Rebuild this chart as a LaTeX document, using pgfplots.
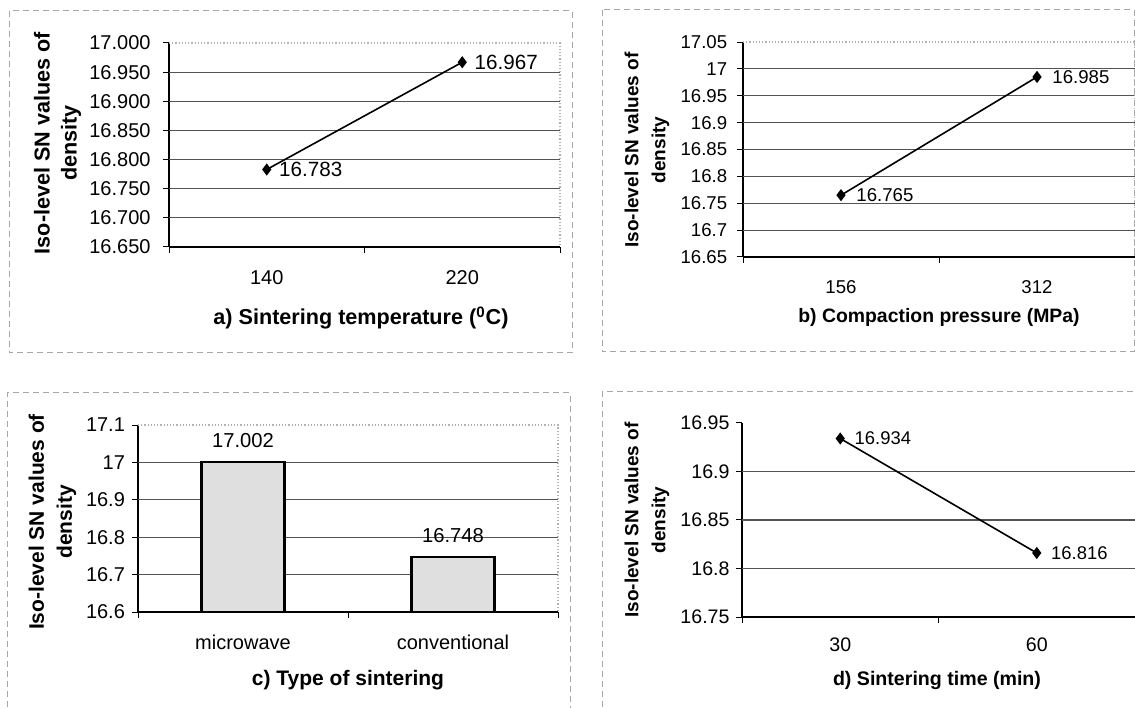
\documentclass[border=0pt]{standalone}
\usepackage{pgfplots}
\pgfplotsset{compat=1.18}
\usepackage{fontspec}
\setmainfont{Liberation Sans}

\pgfplotsset{
  panel/.style={
    scale only axis,
    anchor=south west,
    axis x line*=bottom,
    axis y line*=left,
    axis line style={black, line width=0.6pt},
    /pgf/number format/assume math mode=true,
    xmin=0.5, xmax=2.5,
    xtick={0.5,1.5,2.5},
    xticklabels={},
    tick align=outside,
    major tick length=3pt,
    every tick/.style={black, line width=0.5pt},
    extra x ticks={1,2},
    extra x tick style={major tick length=0pt},
    extra y tick labels={},
    extra y tick style={ymajorgrids=true, major tick length=0pt},
    grid style={gray!65!black, line width=0.6pt},
    clip=false,
    every axis plot post/.append style={black, line width=0.8pt, mark=diamond*, mark size=2.4pt, mark options={solid, fill=black}},
    point meta=explicit symbolic,
    nodes near coords,
  },
  border/.style={after end axis/.code={\draw[gray!60, densely dotted, line width=0.6pt] (rel axis cs:0,1) -- (rel axis cs:1,1) -- (rel axis cs:1,0);}},
}

\begin{document}
\begin{tikzpicture}
\useasboundingbox (0,0) rectangle (567.5pt,353.5pt);
\fill[white] (0,0) rectangle (567.5pt,353.5pt);

\begin{scope}[x=0.5pt, y=0.5pt]
% panel frames
\draw[gray!70, densely dashed, line width=0.5pt] (9,696) rectangle (572,354);
\draw[gray!70, densely dashed, line width=0.5pt] (602,697) rectangle (1134,355);
\draw[gray!70, densely dashed, line width=0.5pt] (7,-10) -- (7,314) -- (570,314) -- (570,-10);
\draw[gray!70, densely dashed, line width=0.5pt] (602,-10) -- (602,315) -- (1134,315);

\node[rotate=90, align=center, font=\bfseries\fontsize{10.8}{13.5}\selectfont] at (57.5,564) {Iso-level SN values of\\density};
\node[font=\bfseries\fontsize{10.8}{13}\selectfont] at (361,389) {a) Sintering temperature (\textsuperscript{0}C)};
\node[rotate=90, align=center, font=\bfseries\fontsize{9.5}{13.5}\selectfont] at (647,557) {Iso-level SN values of\\density};
\node[font=\bfseries\fontsize{9.7}{12}\selectfont] at (939,390) {b) Compaction pressure (MPa)};
\node[rotate=90, align=center, font=\bfseries\fontsize{10.5}{14}\selectfont] at (52.5,185) {Iso-level SN values of\\density};
\node[font=\bfseries\fontsize{10.5}{12}\selectfont] at (348,27) {c) Type of sintering};
\node[rotate=90, align=center, font=\bfseries\fontsize{9.5}{13.5}\selectfont] at (647,187) {Iso-level SN values of\\density};
\node[font=\bfseries\fontsize{9.8}{12}\selectfont] at (937,27) {d) Sintering time (min)};
\end{scope}

% ---------- a) ----------
\begin{axis}[panel, border, at={(84.5pt,230pt)}, width=195.5pt, height=102pt,
  ymin=16.65, ymax=17.0,
  ytick={16.65,16.7,16.75,16.8,16.85,16.9,16.95,17.0},
  yticklabel style={/pgf/number format/fixed, /pgf/number format/fixed zerofill, /pgf/number format/precision=3},
  extra y ticks={16.7,16.75,16.8,16.85,16.9,16.95},
  extra x tick labels={140,220},
  tick label style={font=\fontsize{10}{12}\selectfont},
  yticklabel style={xshift=-2.7pt},
  xticklabel style={yshift=-8pt},
  every node near coord/.append style={anchor=west, xshift=2.5pt, font=\fontsize{10.3}{12}\selectfont, text=black},
]
\addplot coordinates {(1,16.783) [16.783] (2,16.967) [16.967]};
\end{axis}

% ---------- b) ----------
\begin{axis}[panel, border, at={(371.5pt,225pt)}, width=196pt, height=107.5pt,
  ymin=16.65, ymax=17.05,
  ytick={16.65,16.7,16.75,16.8,16.85,16.9,16.95,17.0,17.05},
  extra y ticks={16.7,16.75,16.8,16.85,16.9,16.95,17.0},
  extra x tick labels={156,312},
  tick label style={font=\fontsize{9.3}{11}\selectfont},
  yticklabel style={xshift=-1.4pt},
  xticklabel style={yshift=-8pt},
  every node near coord/.append style={anchor=west, xshift=4pt, font=\fontsize{9.3}{11}\selectfont, text=black},
]
\addplot coordinates {(1,16.765) [16.765] (2,16.985) [16.985]};
\end{axis}

% ---------- c) ----------
\begin{axis}[panel, border, at={(69pt,47.5pt)}, width=210pt, height=93.5pt,
  clip=true,
  ybar, bar width=41.5pt,
  ymin=16.6, ymax=17.1,
  ytick={16.6,16.7,16.8,16.9,17.0,17.1},
  extra y ticks={16.7,16.8,16.9,17.0},
  extra x tick labels={microwave,conventional},
  tick label style={font=\fontsize{10}{12}\selectfont},
  yticklabel style={xshift=0pt},
  xticklabel style={yshift=-8pt},
  every axis plot post/.append style={mark=none, draw=black, line width=1.1pt, fill=gray!25},
  every node near coord/.append style={anchor=south, yshift=3pt, font=\fontsize{10.1}{12}\selectfont, text=black},
]
\addplot coordinates {(1,17.002) [17.002] (2,16.748) [16.748]};
\end{axis}

% ---------- d) ----------
\begin{axis}[panel, at={(371pt,45pt)}, width=196.5pt, height=97pt,
  ymin=16.75, ymax=16.95,
  ytick={16.75,16.8,16.85,16.9,16.95},
  extra y ticks={16.8,16.85,16.9},
  extra x tick labels={30,60},
  tick label style={font=\fontsize{9.8}{11}\selectfont},
  yticklabel style={xshift=0.3pt},
  xticklabel style={yshift=-7pt},
  every node near coord/.append style={anchor=west, xshift=3.5pt, font=\fontsize{9.2}{11}\selectfont, text=black},
]
\addplot coordinates {(1,16.934) [16.934] (2,16.816) [16.816]};
\end{axis}
\end{tikzpicture}
\end{document}
